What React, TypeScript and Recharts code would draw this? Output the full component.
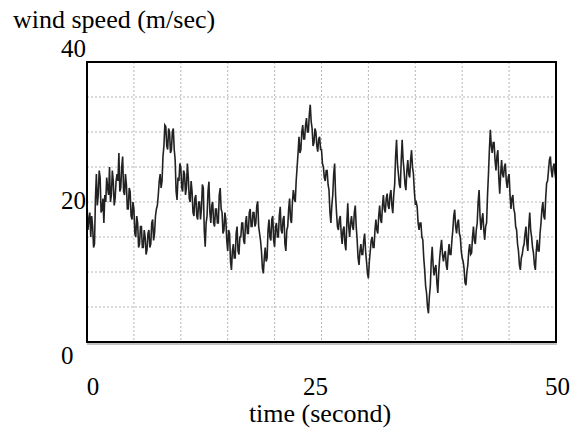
import React from 'react';
import { LineChart, Line, XAxis, YAxis, CartesianGrid } from 'recharts';

// wind speed sampled every 0.1 s from 0 to 50 s (one row per second)
const TIME_STEP = 0.1;
const windSpeed = [
  20, 16, 17.5, 18.5, 15, 18, 16.5, 13.5, 14, 20.5,
  24, 19.5, 21, 24.5, 23.5, 18.5, 19, 20.5, 17, 21,
  20, 23.5, 22, 21, 25, 20, 21, 24.5, 23, 19.5,
  20.5, 23, 24, 23, 27, 21.5, 22, 25, 26.5, 21.5,
  21, 24, 22.5, 19, 19, 22, 21.5, 18, 17.5, 20,
  19, 15.5, 15, 18, 17, 13.5, 14, 16.5, 16.5, 13.5,
  13.5, 16, 15, 12.5, 13.2, 15.5, 16, 13.5, 14, 17,
  17.5, 14.5, 15.5, 18, 19, 19.5, 21, 23, 24, 22,
  23, 26.5, 28, 31, 30.8, 28, 27.5, 30.5, 30, 27,
  27.5, 30, 30.5, 27.5, 26, 21.5, 20.3, 23.5, 23, 25.5,
  25, 22, 21.5, 24.5, 24, 21, 22, 25.5, 23.5, 20.5,
  20, 23, 21.5, 18.5, 18, 20.5, 21, 18, 17.5, 20,
  20, 17.5, 19, 22.5, 22, 16, 13.6, 17, 18, 21.5,
  22.9, 18.5, 17, 19.5, 20, 17, 16.5, 19, 19, 17,
  17, 21, 22, 19, 18.5, 15.5, 16, 18.5, 17.5, 14.5,
  13, 16, 15.5, 11.5, 10.3, 13, 14, 12, 12, 15.5,
  16.5, 13, 12.5, 15, 15, 17, 17, 14.5, 14, 17,
  18, 15.5, 15.5, 18.5, 19, 16.5, 16.5, 18.5, 18.5, 16.5,
  17, 19.5, 20.1, 16.5, 15.5, 14.5, 13, 10.5, 9.8, 12,
  13.5, 11.5, 12, 16, 17.5, 15, 14.5, 17.5, 18, 14.5,
  13.6, 16.5, 17, 15, 15, 18, 19.3, 16, 15.5, 17.5,
  18, 14, 13, 16, 16.5, 19, 20.5, 17.5, 17, 20,
  21.7, 20.5, 20, 23, 25, 27, 29.3, 27, 27.5, 30,
  31, 29, 29, 31, 32, 30, 30, 32.5, 33.9, 31.5,
  30.5, 28, 28.5, 30.5, 30, 28, 27.2, 29, 29.3, 27.5,
  27.5, 25.5, 25, 23.5, 23, 24.5, 24.5, 22.5, 21.7, 18.5,
  17, 19.5, 21, 24, 25.5, 21, 18.5, 16.5, 16, 17.5,
  18, 15.5, 14, 16, 16.5, 14, 13.1, 17, 19.8, 16.5,
  15, 17, 18, 16.5, 16, 18.5, 19.5, 16.5, 14.6, 12,
  11, 13, 14, 12.5, 12.5, 14.5, 15.5, 13, 11.5, 9.8,
  9.1, 11.5, 13, 14.5, 15, 13.5, 13.5, 16, 17.5, 16,
  15.5, 18, 19.5, 17.5, 17, 19.5, 21, 19, 18.5, 20.5,
  21.2, 19.5, 19, 21, 21.7, 19.5, 18.4, 21, 22.5, 26.5,
  28.9, 25.5, 24, 22.5, 22, 26, 28.9, 26, 24.5, 22.5,
  21.7, 24.5, 26, 24, 23.5, 26, 27.4, 25, 24, 21.5,
  19.8, 20, 19.3, 17, 16, 17, 17, 15, 14.6, 12,
  10.3, 8, 7, 5, 4.1, 6.5, 8, 11.5, 13.6, 11,
  9.5, 10.5, 11, 8.5, 7, 10, 12, 13.5, 14.6, 12.5,
  11.5, 12.5, 13, 11, 10.3, 12.5, 14, 12.5, 12.5, 14.5,
  16, 18, 18.9, 16.5, 15.5, 17, 17.5, 15.5, 15, 13,
  12, 11.5, 10.5, 8.5, 8.1, 10, 11, 13, 14, 12.5,
  12.7, 15, 16.5, 14.5, 14, 16, 17, 20, 21.7, 18,
  16, 17.5, 18.4, 16, 14.6, 16.5, 17, 21, 24, 27.5,
  30.3, 28, 27, 28.5, 28.5, 26, 24.5, 26.5, 27.4, 23.5,
  21.2, 24, 26, 24, 23.5, 25, 25.5, 23, 22, 23.5,
  24, 21, 19, 20.5, 21, 19, 18.4, 16.5, 16, 14,
  13, 11, 10.3, 12, 12.5, 13.5, 14, 15.5, 16.5, 14,
  13, 16.5, 18.5, 16, 15, 13.5, 12.7, 11, 10.3, 13,
  14.6, 13, 13, 15.5, 17, 19, 20, 18, 17.5, 20.5,
  22.7, 23, 24.5, 26, 26.5, 24.5, 23.5, 25, 25.5, 24,
  23,
];

const xTicks = [0, 5, 10, 15, 20, 25, 30, 35, 40, 45, 50];
const xLabels = [0, 25, 50];
const yTicks = [0, 5, 10, 15, 20, 25, 30, 35, 40];
const yLabels = [0, 20, 40];

const data = windSpeed.map((v, i) => ({ t: Math.round(i * TIME_STEP * 10) / 10, v }));

const FONT = '"Liberation Serif", "Times New Roman", serif';

// label nudges so they sit where the original figure put them
const yLabelDy: Record<number, number> = { 40: -5, 20: 7, 0: 22 };
const xLabelDx: Record<number, number> = { 0: 6, 25: -6, 50: 1.5 };

const YTick = (props: any) => {
  const { y, payload } = props;
  if (!yLabels.includes(payload.value)) return null;
  return (
    <text x={61} y={y + yLabelDy[payload.value]} textAnchor="start" fontFamily={FONT} fontSize={25} fill="#000">
      {payload.value}
    </text>
  );
};

const XTick = (props: any) => {
  const { x, payload } = props;
  if (!xLabels.includes(payload.value)) return null;
  return (
    <text x={x + xLabelDx[payload.value]} y={395} textAnchor="middle" fontFamily={FONT} fontSize={25} fill="#000">
      {payload.value}
    </text>
  );
};

export default function App() {
  return (
    <div style={{ position: 'absolute', left: 0, top: 0, width: 577, height: 432, background: '#fff' }}>
      <LineChart width={577} height={432} data={data} margin={{ top: 62, right: 21, left: 0, bottom: 0 }}>
        <CartesianGrid stroke="#b8b8b8" strokeDasharray="2 2" />
        <XAxis
          dataKey="t"
          type="number"
          domain={[0, 50]}
          ticks={xTicks}
          height={90}
          axisLine={false}
          tickLine={false}
          tick={<XTick />}
          interval={0}
        />
        <YAxis
          type="number"
          domain={[0, 40]}
          ticks={yTicks}
          width={87}
          axisLine={false}
          tickLine={false}
          tick={<YTick />}
          interval={0}
        />
        <Line type="linear" dataKey="v" stroke="#222" strokeWidth={1.6} dot={false} isAnimationActive={false} />
      </LineChart>
      <svg width={577} height={432} style={{ position: 'absolute', left: 0, top: 0, pointerEvents: 'none' }}>
        <rect x={87} y={62} width={469} height={280} fill="none" stroke="#000" strokeWidth={2} />
        <line x1={87} x2={557} y1={344} y2={344} stroke="#888" strokeWidth={1} />
        <text x={13} y={28} fontFamily={FONT} fontSize={26} fill="#000">wind speed (m/sec)</text>
        <text x={320} y={422} textAnchor="middle" fontFamily={FONT} fontSize={26} fill="#000">time (second)</text>
      </svg>
    </div>
  );
}
